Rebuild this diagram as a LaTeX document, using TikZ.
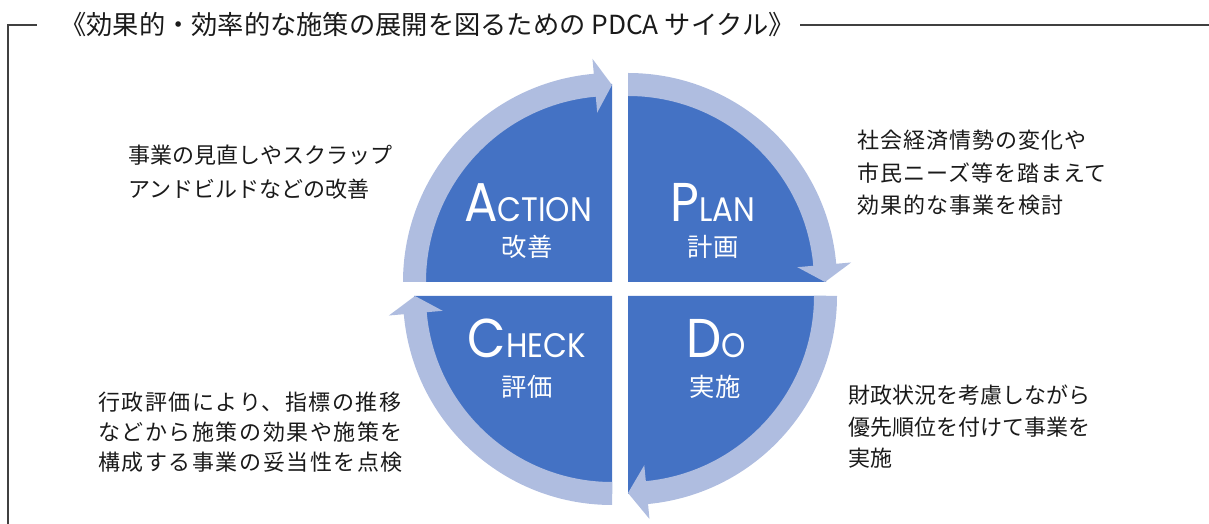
\documentclass[tikz,border=0pt]{standalone}
\usepackage{fontspec}
\setmainfont{Noto Sans CJK JP}
\newfontfamily\jpfont{Noto Sans CJK JP}
\newfontfamily\jpwide[LetterSpace=7]{Noto Sans CJK JP}
\newfontfamily\jpmid[LetterSpace=4.5]{Noto Sans CJK JP}
\newfontfamily\latfont{Poppins}
\definecolor{quadblue}{RGB}{68,114,196}
\definecolor{bandblue}{RGB}{175,189,224}
\definecolor{inkcol}{RGB}{26,26,26}
\definecolor{framecol}{RGB}{64,64,64}
% center, start angle, base angle, tip angle
\newcommand\cyclearrow[4]{%
  \fill[bandblue, shift={#1}] (#2:209) arc[start angle=#2, end angle=#3, radius=209]
    -- (#3:224) -- (#4:197) -- (#3:170) -- (#3:186)
    arc[start angle=#3, end angle=#2, radius=186] -- cycle;}
\newcommand\quarterfill[3]{%
  \fill[quadblue, shift={#1}] (0,0) -- (#2:198) arc[start angle=#2, end angle=#3, radius=198] -- cycle;}
\newcommand\capword[2]{\scalebox{0.91}[1]{\fontsize{41pt}{41pt}\selectfont #1\fontsize{25.5pt}{25.5pt}\selectfont #2}}
\begin{document}
\begin{tikzpicture}[x=0.75pt, y=0.75pt,
  framestyle/.style={draw=framecol, line width=1.3pt},
  desc/.style={anchor=north west, inner sep=0pt, align=left, text=inkcol},
  biglbl/.style={anchor=base, inner sep=0pt, text=white, font=\latfont},
  jplbl/.style={anchor=center, inner sep=0pt, text=white, font=\jpfont\fontsize{19pt}{19pt}\selectfont}]
\useasboundingbox (0,0) rectangle (1209,524);
% frame
\coordinate (fbl) at (8,0);
\coordinate (ftl) at (8,499);
\coordinate (ftr) at (37,499);
\coordinate (frs) at (800,499);
\coordinate (fre) at (1209,499);
\draw[framestyle] (fbl) -- (ftl) -- (ftr);
\draw[framestyle] (frs) -- (fre);
\node[anchor=west, inner sep=0pt, text=inkcol, font=\jpfont\fontsize{19.7pt}{19.7pt}\selectfont] (title) at (60,499) {《効果的・効率的な施策の展開を図るための PDCA サイクル》};
% quadrants
\quarterfill{(612,242)}{180}{90}
\quarterfill{(628,242)}{90}{0}
\quarterfill{(628,228)}{0}{-90}
\quarterfill{(612,228)}{-90}{-180}
% arrows
\cyclearrow{(612,242)}{180}{95}{90}
\cyclearrow{(628,242)}{90}{5}{0}
\cyclearrow{(628,228)}{0}{-84.5}{-90}
\cyclearrow{(612,228)}{-90}{-175}{-180}
% labels
\node[biglbl] (act) at (528,302) {\capword{A}{CTION}};
\node[jplbl] (actj) at (527,277) {改善};
\node[biglbl] (pln) at (713,302) {\capword{P}{LAN}};
\node[jplbl] (plnj) at (713,277) {計画};
\node[biglbl] (chk) at (527,166) {\capword{C}{HECK}};
\node[jplbl] (chkj) at (527,137) {評価};
\node[biglbl] (doo) at (716,166) {\capword{D}{O}};
\node[jplbl] (dooj) at (715,137) {実施};
% descriptions
\node[desc, font=\jpfont\fontsize{16.5pt}{25.5pt}\selectfont] (actd) at (128,379) {事業の見直しやスクラップ\\アンドビルドなどの改善};
\node[desc, font=\jpmid\fontsize{16.5pt}{24.4pt}\selectfont] (plnd) at (857,394) {社会経済情勢の変化や\\市民ニーズ等を踏まえて\\効果的な事業を検討};
\node[desc, font=\jpwide\fontsize{16.5pt}{22.5pt}\selectfont] (chkd) at (98,132) {行政評価により、指標の推移\\などから施策の効果や施策を\\構成する事業の妥当性を点検};
\node[desc, font=\jpfont\fontsize{16.5pt}{23.6pt}\selectfont] (dood) at (848,139) {財政状況を考慮しながら\\優先順位を付けて事業を\\実施};
\end{tikzpicture}
\end{document}
